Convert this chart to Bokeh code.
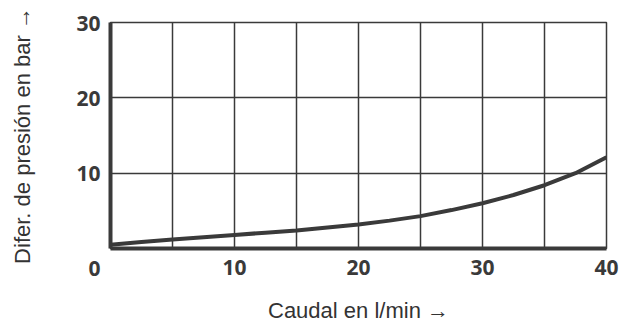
from bokeh.plotting import figure
from bokeh.models import FixedTicker, Range1d
from bokeh.embed import file_html
from bokeh.resources import INLINE

# data
flow = [0, 2.5, 5, 7.5, 10, 12.5, 15, 17.5, 20, 22.5, 25, 27.5, 30, 32.5, 35, 37.5, 40]
dp = [0.5, 0.85, 1.2, 1.5, 1.8, 2.1, 2.4, 2.8, 3.2, 3.7, 4.3, 5.1, 6.0, 7.1, 8.4, 10.0, 12.1]
x_ticks = [10, 20, 30, 40]
y_ticks = [0, 10, 20, 30]
x_grid = [5, 10, 15, 20, 25, 30, 35]
y_grid = [10, 20]
x_title = "Caudal en l/min →"
y_title = "Difer. de presión en bar →"

DARK = "#3a3a3a"

p = figure(width=628, height=317, output_backend="svg", toolbar_location=None,
           x_range=Range1d(0, 40), y_range=Range1d(0, 30),
           min_border_left=110, min_border_right=22, min_border_top=22, min_border_bottom=69)
p.frame_width = 496
p.frame_height = 226

p.outline_line_color = DARK
p.outline_line_width = 1.5
p.background_fill_color = "white"
p.border_fill_color = "white"

p.xaxis.ticker = FixedTicker(ticks=x_ticks)
p.yaxis.ticker = FixedTicker(ticks=y_ticks)
p.yaxis.major_label_overrides = {0: "\n\n0"}
p.xgrid.ticker = FixedTicker(ticks=x_grid)
p.ygrid.ticker = FixedTicker(ticks=y_grid)
for g in (p.xgrid, p.ygrid):
    g.grid_line_color = DARK
    g.grid_line_width = 1.5
    g.grid_line_alpha = 1.0

for ax in (p.xaxis, p.yaxis):
    ax.axis_line_color = DARK
    ax.axis_line_width = 4
    ax.major_tick_in = 0
    ax.major_tick_out = 0
    ax.minor_tick_in = 0
    ax.minor_tick_out = 0
    ax.major_label_text_font = "Open Sans"
    ax.major_label_text_font_style = "bold"
    ax.major_label_text_font_size = "21px"
    ax.major_label_text_color = DARK
    ax.axis_label_text_font = "Liberation Sans"
    ax.axis_label_text_font_style = "normal"
    ax.axis_label_text_font_size = "22px"
    ax.axis_label_text_color = "#333333"

p.yaxis.major_label_text_line_height = 0.7
p.xaxis.major_label_standoff = 11
p.yaxis.major_label_standoff = 10
p.xaxis.axis_label = x_title
p.yaxis.axis_label = y_title
p.xaxis.axis_label_standoff = 20
p.yaxis.axis_label_standoff = 38

p.line(flow, dp, line_color=DARK, line_width=4)

open("out.html", "w").write(file_html(p, INLINE))
